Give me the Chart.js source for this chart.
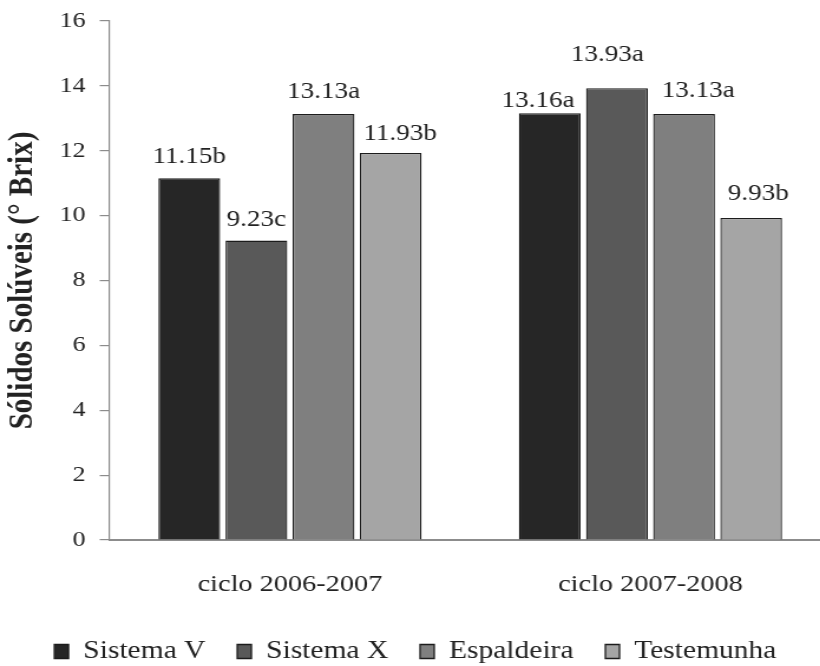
<!DOCTYPE html>
<html>
<head>
<meta charset="utf-8">
<script src="https://cdn.jsdelivr.net/npm/chart.js@4.4.1/dist/chart.umd.min.js"></script>
<style>
  html, body { margin: 0; padding: 0; background: #fff; }
  #wrap { width: 820px; height: 666px; overflow: hidden; position: relative; }
  #c { transform: scaleX(1.18); transform-origin: 0 0; display: block; }
</style>
</head>
<body>
<div id="wrap"><canvas id="c" width="720" height="674"></canvas></div>
<script>
// Soluble solids (°Brix) per training system and growing cycle
const cycles = ['ciclo 2006-2007', 'ciclo 2007-2008'];
const seriesNames = ['Sistema V', 'Sistema X', 'Espaldeira', 'Testemunha'];
const sistemaV   = [11.15, 13.16];
const sistemaX   = [9.23, 13.93];
const espaldeira = [13.13, 13.13];
const testemunha = [11.93, 9.93];
// Tukey letters shown next to each mean
const lettersV   = ['b', 'a'];
const lettersX   = ['c', 'a'];
const lettersE   = ['a', 'a'];
const lettersT   = ['b', 'b'];
const yTicks = [0, 2, 4, 6, 8, 10, 12, 14, 16];

const fills = ['#262626', '#595959', '#7f7f7f', '#a5a5a5'];
const values = [sistemaV, sistemaX, espaldeira, testemunha];
const letters = [lettersV, lettersX, lettersE, lettersT];

// Label nudges [dx, gap above bar top] so neighbouring labels don't collide
const labelNudge = [
  [[0, 15], [-10, 6]],
  [[0, 15], [-8, 27]],
  [[0, 16], [12, 17]],
  [[8, 13], [6, 18]]
];

const serif = '"Liberation Serif", "Times New Roman", serif';

const valueLabels = {
  id: 'valueLabels',
  afterDatasetsDraw(chart) {
    const ctx = chart.ctx;
    ctx.save();
    ctx.font = '23px ' + serif;
    ctx.fillStyle = '#222';
    ctx.textAlign = 'center';
    ctx.textBaseline = 'alphabetic';
    chart.data.datasets.forEach((ds, i) => {
      const meta = chart.getDatasetMeta(i);
      meta.data.forEach((bar, j) => {
        const v = ds.data[j];
        const txt = v.toFixed(2) + letters[i][j];
        const [dx, gap] = labelNudge[i][j];
        ctx.fillText(txt, bar.x + dx, bar.y - gap);
      });
    });
    ctx.restore();
  }
};

new Chart(document.getElementById('c'), {
  type: 'bar',
  data: {
    labels: cycles,
    datasets: seriesNames.map((name, i) => ({
      label: name,
      data: values[i],
      backgroundColor: fills[i],
      borderColor: '#1c1c1c',
      borderWidth: 1.3,
      categoryPercentage: 0.745,
      barPercentage: 0.92
    }))
  },
  options: {
    responsive: false,
    devicePixelRatio: 1,
    animation: false,
    layout: { padding: { top: 10, right: 16, left: 0, bottom: 0 } },
    plugins: {
      tooltip: { enabled: false },
      legend: {
        position: 'bottom',
        labels: {
          font: { family: serif, size: 25 },
          color: '#222',
          boxWidth: 12,
          boxHeight: 14,
          padding: 27
        }
      }
    },
    scales: {
      x: {
        grid: { display: false },
        border: { display: true, color: '#8c8c8c', width: 2 },
        ticks: { font: { family: serif, size: 24 }, color: '#222', padding: 22 },
        afterFit(s) { s.height = 72; }
      },
      y: {
        min: 0,
        max: 16,
        afterBuildTicks(s) { s.ticks = yTicks.map(v => ({ value: v })); },
        grid: { drawOnChartArea: false, drawTicks: true, tickLength: 8.5, color: '#8c8c8c', lineWidth: 1.2 },
        border: { display: true, color: '#8c8c8c', width: 1.2 },
        ticks: { font: { family: serif, size: 22, lineHeight: 0.82 }, color: '#222', padding: 12 },
        title: {
          display: true,
          text: 'Sólidos Solúveis (° Brix)',
          font: { family: serif, size: 29, weight: 'bold' },
          color: '#222',
          padding: { top: 2, bottom: 0 }
        },
        afterFit(s) { s.width = 93; }
      }
    }
  },
  plugins: [valueLabels]
});
</script>
</body>
</html>
